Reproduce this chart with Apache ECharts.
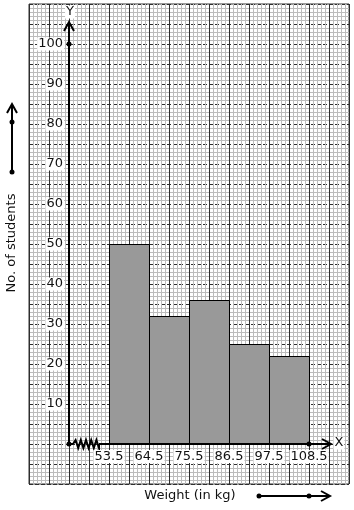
<!DOCTYPE html>
<html><head><meta charset="utf-8">
<script src="https://cdn.jsdelivr.net/npm/echarts@6/dist/echarts.min.js"></script>
<style>html,body{margin:0;padding:0;background:#fff}#c{width:354px;height:510px}</style>
</head><body><div id="c"></div>
<script>
// ---- data ----
const binEdges = [53.5, 64.5, 75.5, 86.5, 97.5, 108.5];
const students = [50, 32, 36, 25, 22];
const yTickValues = [10, 20, 30, 40, 50, 60, 70, 80, 90, 100];
const xTitle = 'Weight (in kg)';
const yTitle = 'No. of students';

const FONT = 'DejaVu Sans';
const TXT = '#111';
const bars = students.map((v, i) => [binEdges[i], binEdges[i + 1], v]);
const X_MIN = 31.5, X_MAX = 119.5, Y_MIN = -10, Y_MAX = 110;
const X_ORIGIN = 42.5; // where the (broken) x-axis meets the y-axis

const chart = echarts.init(document.getElementById('c'), null, {renderer: 'canvas'});
const crisp = v => Math.round(v) + 0.5;

function renderBar(params, api) {
  const p0 = api.coord([api.value(0), api.value(2)]);
  const p1 = api.coord([api.value(1), 0]);
  const x0 = crisp(p0[0]), x1 = crisp(p1[0]), y0 = crisp(p0[1]), y1 = crisp(p1[1]);
  return {type: 'rect', shape: {x: x0, y: y0, width: x1 - x0, height: y1 - y0},
    style: {fill: '#999999', stroke: '#000', lineWidth: 1}};
}

function renderAxes(params, api) {
  const o = api.coord([X_ORIGIN, 0]);
  const ox = Math.round(o[0]), oy = Math.round(o[1]);
  const yTop = api.coord([X_ORIGIN, 105.5])[1];
  const yDot = api.coord([X_ORIGIN, 100]);
  const xStart = api.coord([binEdges[0], 0])[0] - 10;
  const xTip = api.coord([114.55, 0])[0];
  const xEndDot = api.coord([binEdges[binEdges.length - 1], 0]);
  const zig = [[ox, oy], [ox + 4, oy]];
  let zx = ox + 4, up = true;
  while (zx < xStart - 2) { zx += 2.6; zig.push([zx, oy + (up ? -4 : 4)]); up = !up; }
  zig.push([xStart, oy]);
  const ls = {stroke: '#000', lineWidth: 2, fill: null};
  return {type: 'group', children: [
    {type: 'line', shape: {x1: ox, y1: oy, x2: ox, y2: yTop}, style: ls},
    {type: 'polyline', shape: {points: [[ox - 5, yTop + 9], [ox, yTop], [ox + 5, yTop + 9]]}, style: ls},
    {type: 'polyline', shape: {points: zig}, style: {stroke: '#000', lineWidth: 2, fill: null}},
    {type: 'line', shape: {x1: xStart, y1: oy, x2: xTip, y2: oy}, style: ls},
    {type: 'polyline', shape: {points: [[xTip - 9, oy - 5], [xTip, oy], [xTip - 9, oy + 5]]}, style: ls},
    {type: 'circle', shape: {cx: ox, cy: oy, r: 2.5}, style: {fill: '#000'}},
    {type: 'circle', shape: {cx: yDot[0], cy: yDot[1], r: 2.5}, style: {fill: '#000'}},
    {type: 'circle', shape: {cx: xEndDot[0], cy: xEndDot[1], r: 2.5}, style: {fill: '#000'}},
    {type: 'text', x: ox + 1, y: yTop - 10, style: {text: 'Y', font: '13px ' + FONT, fill: TXT, align: 'center', verticalAlign: 'middle', backgroundColor: '#fff', padding: [0, 1]}},
    {type: 'text', x: xTip + 8, y: oy - 1, style: {text: 'X', font: '13px ' + FONT, fill: TXT, align: 'center', verticalAlign: 'middle', backgroundColor: '#fff', padding: [0, 1]}}
  ]};
}

const paperX = {
  type: 'value', gridIndex: 0, min: 0, max: 80, interval: 5, position: 'top',
  axisLine: {show: false}, axisTick: {show: false}, axisLabel: {show: false},
  splitLine: {show: true, lineStyle: {color: '#2e2e2e', width: 1}},
  minorTick: {show: false, splitNumber: 5},
  minorSplitLine: {show: true, lineStyle: {color: '#bcbcbc', width: 1}}
};
const paperY = {
  type: 'value', gridIndex: 0, min: 0, max: 120, interval: 5, position: 'right',
  axisLine: {show: false}, axisTick: {show: false}, axisLabel: {show: false},
  splitLine: {show: true, lineStyle: {color: '#2e2e2e', width: 1, type: [4, 2]}},
  minorTick: {show: false, splitNumber: 5},
  minorSplitLine: {show: true, lineStyle: {color: '#bcbcbc', width: 1}}
};

chart.setOption({
  animation: false,
  backgroundColor: '#fff',
  textStyle: {fontFamily: FONT},
  grid: {left: 29, top: 4, width: 320, height: 480, show: true, borderColor: '#333', borderWidth: 1, backgroundColor: '#fff'},
  xAxis: [
    paperX,
    {type: 'value', gridIndex: 0, min: X_MIN, max: X_MAX, position: 'bottom', offset: -40, z: 5,
     axisLine: {show: false}, axisTick: {show: false}, splitLine: {show: false},
     axisLabel: {customValues: binEdges, formatter: v => String(v), margin: 6, fontSize: 13, color: TXT,
       fontFamily: FONT, backgroundColor: '#fff', padding: [0, 1]}}
  ],
  yAxis: [
    paperY,
    {type: 'value', gridIndex: 0, min: Y_MIN, max: Y_MAX, interval: 10, position: 'left', offset: -40, z: 5,
     axisLine: {show: false}, axisTick: {show: false}, splitLine: {show: false},
     axisLabel: {customValues: yTickValues, margin: 5, fontSize: 13, color: TXT,
       fontFamily: FONT, backgroundColor: '#fff', padding: [0, 1]}}
  ],
  graphic: [
    {type: 'text', x: 190, y: 496, style: {text: xTitle, font: '13px ' + FONT, fill: TXT, align: 'center', verticalAlign: 'middle'}},
    {type: 'text', x: 12, y: 243, rotation: Math.PI / 2, style: {text: yTitle, font: '13px ' + FONT, fill: TXT, align: 'center', verticalAlign: 'middle'}},
    {type: 'line', shape: {x1: 259, y1: 496, x2: 330, y2: 496}, style: {stroke: '#000', lineWidth: 2}},
    {type: 'polyline', shape: {points: [[321, 491], [330, 496], [321, 501]]}, style: {stroke: '#000', lineWidth: 2, fill: null}},
    {type: 'circle', shape: {cx: 259, cy: 496, r: 2.5}, style: {fill: '#000'}},
    {type: 'circle', shape: {cx: 309, cy: 496, r: 2.5}, style: {fill: '#000'}},
    {type: 'line', shape: {x1: 12, y1: 172, x2: 12, y2: 104}, style: {stroke: '#000', lineWidth: 2}},
    {type: 'polyline', shape: {points: [[7, 113], [12, 104], [17, 113]]}, style: {stroke: '#000', lineWidth: 2, fill: null}},
    {type: 'circle', shape: {cx: 12, cy: 122, r: 2.5}, style: {fill: '#000'}},
    {type: 'circle', shape: {cx: 12, cy: 172, r: 2.5}, style: {fill: '#000'}}
  ],
  series: [
    {type: 'custom', xAxisIndex: 1, yAxisIndex: 1, data: bars, renderItem: renderBar, z: 3},
    {type: 'custom', xAxisIndex: 1, yAxisIndex: 1, data: [[0]], renderItem: renderAxes, z: 4, silent: true}
  ]
});
</script></body></html>
